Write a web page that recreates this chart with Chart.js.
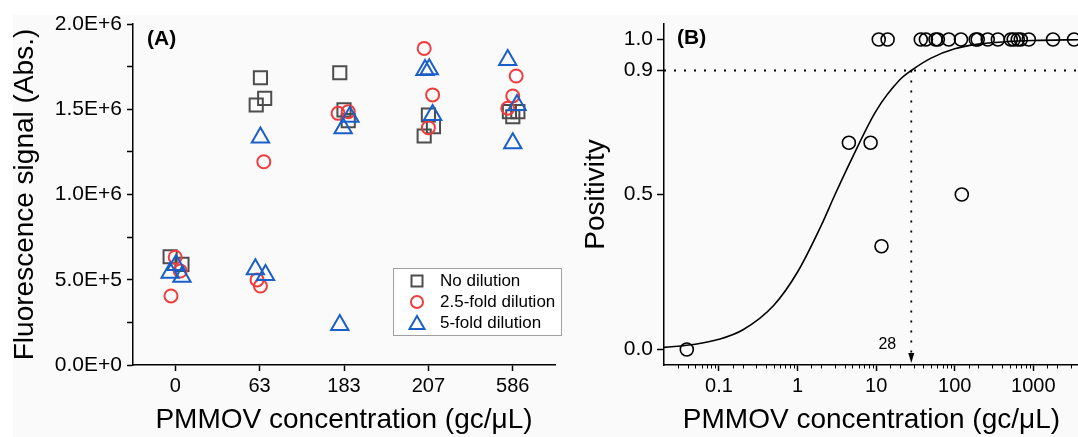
<!DOCTYPE html>
<html>
<head>
<meta charset="utf-8">
<script src="https://cdn.jsdelivr.net/npm/chart.js"></script>
<style>
  html, body { margin: 0; padding: 0; background: #fff; }
  #wrap { position: relative; width: 1078px; height: 437px; overflow: hidden; }
  #bg { position: absolute; left: 13px; top: 15px; right: 0; bottom: 0; background: #fafafa; }
  #left { position: absolute; left: 0; top: 0; }
  #right { position: absolute; left: 575px; top: 0; }
</style>
</head>
<body>
<div id="wrap">
  <div id="bg"></div>
  <canvas id="left" width="575" height="437"></canvas>
  <canvas id="right" width="512" height="437"></canvas>
</div>
<script>
// ---- panel A data: fluorescence signal per concentration group (x = group index + jitter)
var categories = ['0', '63', '183', '207', '586'];

var noDilutionX = [-0.06, 0.08, 0.96, 1.01, 1.06, 1.95, 2.0, 2.05, 2.95, 3.0, 3.06, 3.96, 4.0, 4.06];
var noDilutionY = [635000, 590000, 1525000, 1685000, 1564000, 1714000, 1496000, 1433000, 1343000, 1466000, 1398000, 1486000, 1456000, 1486000];

var fold25X = [0.0, 0.06, -0.05, 0.97, 1.01, 1.05, 1.93, 2.05, 2.95, 3.05, 3.0, 3.94, 4.0, 4.04];
var fold25Y = [632000, 551000, 405000, 499000, 463000, 1192000, 1476000, 1486000, 1857000, 1584000, 1392000, 1506000, 1578000, 1695000];

var fold5X = [-0.06, 0.01, 0.08, 0.95, 1.07, 1.01, 1.95, 1.99, 2.07, 2.96, 3.01, 3.05, 3.94, 4.05, 4.0];
var fold5Y = [541000, 587000, 518000, 561000, 528000, 1335000, 235000, 1388000, 1456000, 1730000, 1734000, 1466000, 1789000, 1525000, 1300000];

var seriesNames = ['No dilution', '2.5-fold dilution', '5-fold dilution'];

// ---- panel B data: positivity vs concentration
var posConc = [0.039, 4.5, 8.5, 11.7, 123, 10.8, 14, 37, 43, 57, 61, 84, 120, 185, 196, 263, 354, 516, 563, 634, 692, 876, 1780, 3300];
var posY = [0, 0.667, 0.667, 0.333, 0.5, 1, 1, 1, 1, 1, 1, 1, 1, 1, 1, 1, 1, 1, 1, 1, 1, 1, 1, 1];

// fitted curve
var fitConc = [0.02, 0.05, 0.1, 0.2, 0.5, 1, 2, 3, 5, 10, 20, 28, 50, 100, 200, 500, 1000, 4000];
var fitY = [0.007, 0.017, 0.033, 0.063, 0.143, 0.25, 0.40, 0.50, 0.62, 0.77, 0.87, 0.90, 0.94, 0.97, 0.985, 0.994, 0.997, 0.9995];

var cutoffConc = 28;
var cutoffLevel = 0.9;
var posTicks = [0, 0.5, 0.9, 1.0];

function pts(xs, ys) {
  return xs.map(function (x, i) { return { x: x, y: ys[i] }; });
}

var FONT = 'Liberation Sans, Arial, sans-serif';
var grey = '#4d4d4d', red = '#f03c3c', blue = '#1a5fc8';

// ---------- Panel A ----------
var panelAExtras = {
  id: 'panelAExtras',
  afterDraw: function (chart) {
    var ctx = chart.ctx;
    ctx.save();
    ctx.fillStyle = '#000';
    ctx.font = 'bold 21px ' + FONT;
    ctx.textBaseline = 'middle';
    ctx.fillText('(A)', 147, 39);

    // legend box
    ctx.fillStyle = '#fff';
    ctx.fillRect(393.5, 268.5, 168, 67);
    ctx.strokeStyle = '#a0a0a0';
    ctx.lineWidth = 1;
    ctx.strokeRect(393.5, 268.5, 168, 67);

    var rows = [281, 302, 323];
    var mx = 417;
    ctx.lineWidth = 2;
    ctx.strokeStyle = grey;
    ctx.strokeRect(mx - 5.5, rows[0] - 5.5, 11, 11);
    ctx.strokeStyle = red;
    ctx.beginPath();
    ctx.arc(mx, rows[1], 6, 0, Math.PI * 2);
    ctx.stroke();
    ctx.strokeStyle = blue;
    ctx.beginPath();
    ctx.moveTo(mx, rows[2] - 7);
    ctx.lineTo(mx + 7.5, rows[2] + 6);
    ctx.lineTo(mx - 7.5, rows[2] + 6);
    ctx.closePath();
    ctx.stroke();

    ctx.fillStyle = '#000';
    ctx.font = '17px ' + FONT;
    ctx.textBaseline = 'middle';
    seriesNames.forEach(function (s, i) { ctx.fillText(s, 440, rows[i]); });
    ctx.restore();
  }
};

new Chart(document.getElementById('left'), {
  type: 'scatter',
  data: {
    datasets: [
      { label: seriesNames[0], data: pts(noDilutionX, noDilutionY), pointStyle: 'rect', pointRadius: 9.3,
        borderColor: grey, backgroundColor: 'rgba(0,0,0,0)', pointBorderWidth: 2, order: 3 },
      { label: seriesNames[1], data: pts(fold25X, fold25Y), pointStyle: 'circle', pointRadius: 6.5,
        borderColor: red, backgroundColor: 'rgba(0,0,0,0)', pointBorderWidth: 2, order: 2 },
      { label: seriesNames[2], data: pts(fold5X, fold5Y), pointStyle: 'triangle', pointRadius: 10,
        borderColor: blue, backgroundColor: 'rgba(0,0,0,0)', pointBorderWidth: 2, order: 1 }
    ]
  },
  options: {
    responsive: false,
    animation: false,
    devicePixelRatio: 1,
    layout: { padding: { left: 0, right: 20, top: 24, bottom: 0 } },
    plugins: { legend: { display: false }, tooltip: { enabled: false } },
    scales: {
      x: {
        type: 'linear', min: -0.5, max: 4.5,
        afterBuildTicks: function (s) { s.ticks = [0, 1, 2, 3, 4].map(function (v) { return { value: v }; }); },
        afterFit: function (s) { s.height = 72; },
        grid: { display: true, drawOnChartArea: false, tickLength: 6, tickColor: '#000', tickWidth: 1.5 },
        border: { display: true, color: '#000', width: 1.5 },
        ticks: { color: '#000', font: { family: FONT, size: 20 }, padding: 3, maxRotation: 0, autoSkip: false,
          callback: function (v) { return categories[v]; } },
        title: { display: true, text: 'PMMOV concentration (gc/μL)', color: '#000',
          font: { family: FONT, size: 28 }, padding: { top: 0, bottom: 0 } }
      },
      y: {
        min: 0, max: 2000000,
        afterFit: function (s) { s.width = 133; },
        grid: { display: true, drawOnChartArea: false, tickLength: 6, tickColor: '#000', tickWidth: 1.5 },
        border: { display: true, color: '#000', width: 1.5 },
        ticks: { stepSize: 250000, color: '#000', font: { family: FONT, size: 21 }, padding: 5, autoSkip: false,
          callback: function (v) {
            if (v % 500000 !== 0) return '';
            if (v === 0) return '0.0E+0';
            return v >= 1000000 ? (v / 1000000).toFixed(1) + 'E+6' : (v / 100000).toFixed(1) + 'E+5';
          } },
        title: { display: true, text: 'Fluorescence signal (Abs.)', color: '#000',
          font: { family: FONT, size: 28 }, padding: { top: 8, bottom: 0 } }
      }
    }
  },
  plugins: [panelAExtras]
});

// ---------- Panel B ----------
function isDecade(v) {
  var l = Math.log10(v);
  return Math.abs(l - Math.round(l)) < 1e-9;
}

var panelBExtras = {
  id: 'panelBExtras',
  afterDraw: function (chart) {
    var ctx = chart.ctx;
    var xs = chart.scales.x;
    var area = chart.chartArea;
    ctx.save();
    // minor log ticks
    ctx.strokeStyle = '#000';
    ctx.lineWidth = 1;
    xs.ticks.forEach(function (t) {
      if (isDecade(t.value) || t.value === xs.max || t.value === xs.min) return;
      var px = Math.round(xs.getPixelForValue(t.value)) + 0.5;
      ctx.beginPath();
      ctx.moveTo(px, area.bottom);
      ctx.lineTo(px, area.bottom + 3.5);
      ctx.stroke();
    });
    // arrow head at the end of the cutoff line
    var ax = xs.getPixelForValue(cutoffConc);
    ctx.fillStyle = '#000';
    ctx.beginPath();
    ctx.moveTo(ax, area.bottom - 2);
    ctx.lineTo(ax - 3, area.bottom - 12);
    ctx.lineTo(ax + 3, area.bottom - 12);
    ctx.closePath();
    ctx.fill();

    ctx.font = 'bold 21px ' + FONT;
    ctx.textBaseline = 'middle';
    ctx.fillText('(B)', 102, 38);
    ctx.font = '16px ' + FONT;
    ctx.textAlign = 'center';
    ctx.fillText(String(cutoffConc), ax - 24, 345);
    ctx.restore();
  }
};

new Chart(document.getElementById('right'), {
  type: 'scatter',
  data: {
    datasets: [
      { label: 'Positivity', data: pts(posConc, posY), pointStyle: 'circle', pointRadius: 6.5,
        borderColor: '#000', backgroundColor: 'rgba(0,0,0,0)', pointBorderWidth: 1.6, order: 1, clip: false },
      { label: 'Fit', data: pts(fitConc, fitY), showLine: true, pointRadius: 0, borderColor: '#000',
        borderWidth: 1.6, cubicInterpolationMode: 'monotone', order: 2 },
      { label: 'Level', data: [{ x: 0.02, y: cutoffLevel }, { x: 4000, y: cutoffLevel }], showLine: true,
        pointRadius: 0, borderColor: '#000', borderWidth: 1.8, borderDash: [2, 8], order: 3 },
      { label: 'Cutoff', data: [{ x: cutoffConc, y: cutoffLevel }, { x: cutoffConc, y: -0.03 }], showLine: true,
        pointRadius: 0, borderColor: '#000', borderWidth: 1.8, borderDash: [2, 8], order: 3 }
    ]
  },
  options: {
    responsive: false,
    animation: false,
    devicePixelRatio: 1,
    layout: { padding: { left: 0, right: 0, top: 24, bottom: 0 } },
    plugins: { legend: { display: false }, tooltip: { enabled: false } },
    scales: {
      x: {
        type: 'logarithmic', min: 0.02, max: 3800,
        afterFit: function (s) { s.height = 72; },
        grid: { display: true, drawOnChartArea: false, tickLength: 6, tickWidth: 1.5,
          tickColor: function (c) { return c.tick && isDecade(c.tick.value) ? '#000' : 'rgba(0,0,0,0)'; } },
        border: { display: true, color: '#000', width: 1.5 },
        ticks: { color: '#000', font: { family: FONT, size: 20 }, padding: 3, maxRotation: 0, autoSkip: false,
          callback: function (v) { return isDecade(v) ? String(v) : ''; } },
        title: { display: true, text: 'PMMOV concentration (gc/μL)', color: '#000',
          font: { family: FONT, size: 28 }, padding: { top: 0, bottom: 0 } }
      },
      y: {
        min: -0.05, max: 1.05,
        afterFit: function (s) { s.width = 89; },
        afterBuildTicks: function (s) { s.ticks = posTicks.map(function (v) { return { value: v }; }); },
        grid: { display: true, drawOnChartArea: false, tickLength: 7, tickColor: '#000', tickWidth: 1.5 },
        border: { display: true, color: '#000', width: 1.5 },
        ticks: { color: '#000', font: { family: FONT, size: 21 }, padding: 4, autoSkip: false,
          callback: function (v) { return v.toFixed(1); } },
        title: { display: true, text: 'Positivity', color: '#000',
          font: { family: FONT, size: 28 }, padding: { top: 4, bottom: 0 } }
      }
    }
  },
  plugins: [panelBExtras]
});
</script>
</body>
</html>
